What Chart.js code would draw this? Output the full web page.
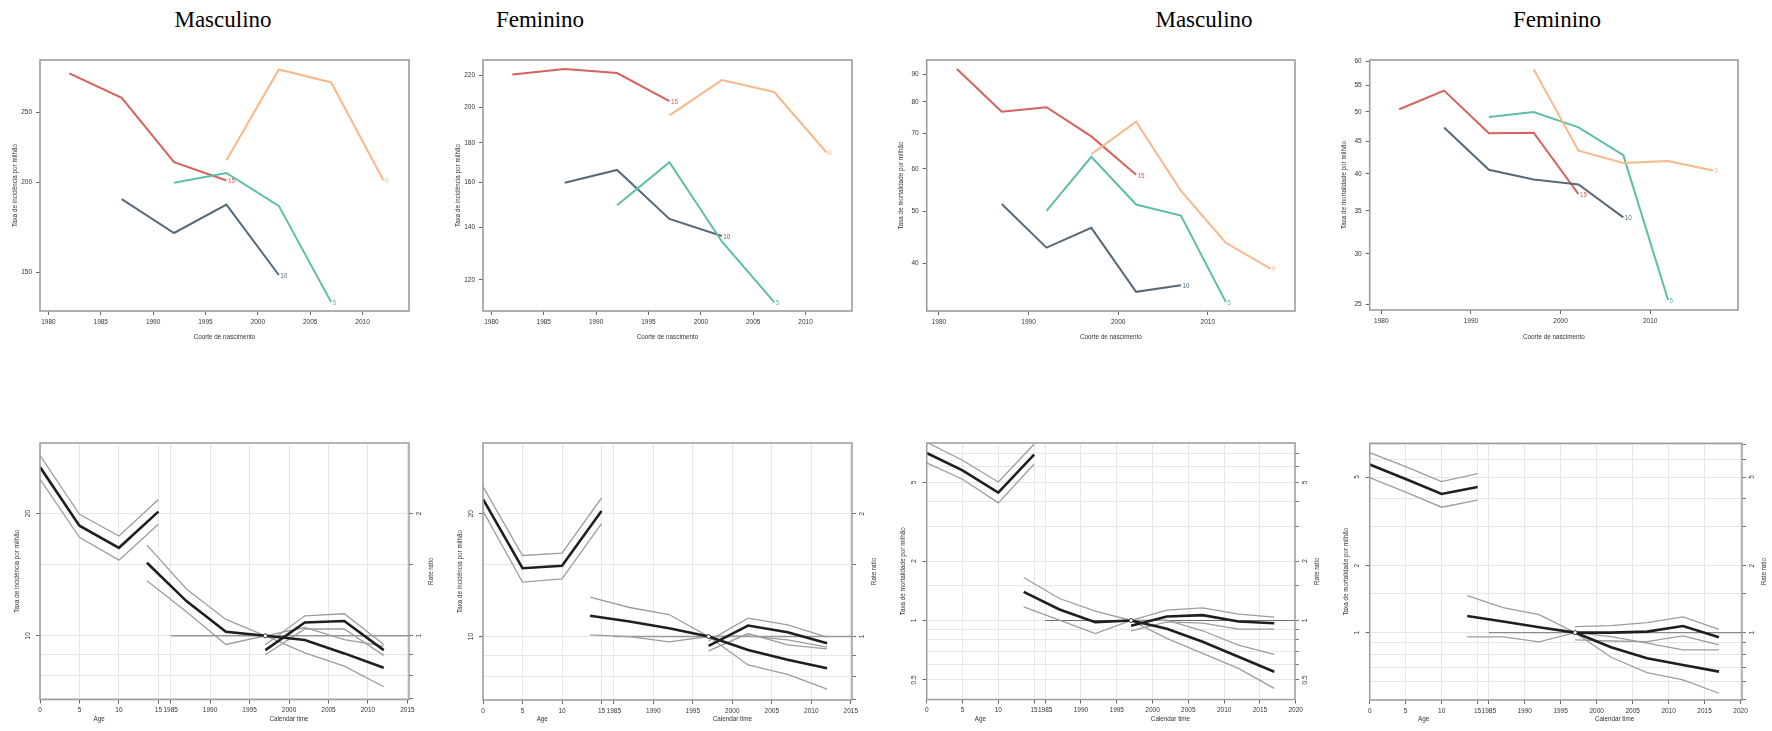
<!DOCTYPE html>
<html><head><meta charset="utf-8">
<script src="https://cdn.jsdelivr.net/npm/chart.js@4.4.1/dist/chart.umd.min.js"></script>
<style>
body{margin:0;background:#fff;width:1772px;height:731px;overflow:hidden;position:relative}
canvas{position:absolute}
.ttl{position:absolute;font-family:"Liberation Serif","Times New Roman",serif;font-size:23px;line-height:23px;color:#000;white-space:nowrap;transform:translateX(-50%)}
</style></head><body>
<div class="ttl" style="left:223px;top:8px">Masculino</div>
<div class="ttl" style="left:540px;top:8px">Feminino</div>
<div class="ttl" style="left:1204px;top:8px">Masculino</div>
<div class="ttl" style="left:1557px;top:8px">Feminino</div>
<canvas id="t0" width="443" height="310" style="left:0px;top:40px"></canvas>
<canvas id="t1" width="443" height="310" style="left:443px;top:40px"></canvas>
<canvas id="t2" width="443" height="310" style="left:886px;top:40px"></canvas>
<canvas id="t3" width="443" height="310" style="left:1329px;top:40px"></canvas>
<canvas id="b0" width="443" height="301" style="left:0px;top:430px"></canvas>
<canvas id="b1" width="443" height="301" style="left:443px;top:430px"></canvas>
<canvas id="b2" width="443" height="301" style="left:886px;top:430px"></canvas>
<canvas id="b3" width="443" height="301" style="left:1329px;top:430px"></canvas>
<script>
// ---------------- DATA: top row (rates by birth cohort, one line per age group) ----------------
const AGE_LABELS = ['0', '5', '10', '15'];
const COH_INC_A0  = [1997, 2002, 2007, 2012];
const COH_INC_A5  = [1992, 1997, 2002, 2007];
const COH_INC_A10 = [1987, 1992, 1997, 2002];
const COH_INC_A15 = [1982, 1987, 1992, 1997];
const COH_MORT_A0  = [1997, 2002, 2007, 2012, 2017];
const COH_MORT_A5  = [1992, 1997, 2002, 2007, 2012];
const COH_MORT_A10 = [1987, 1992, 1997, 2002, 2007];
const COH_MORT_A15 = [1982, 1987, 1992, 1997, 2002];

const INC_M_A0  = [214.5, 286.3, 274.7, 201.1];
const INC_M_A5  = [199.6, 206.0, 185.5, 136.6];
const INC_M_A10 = [189.5, 170.2, 186.3, 148.9];
const INC_M_A15 = [282.7, 261.6, 213.2, 201.1];

const INC_F_A0  = [195.2, 216.7, 209.2, 174.9];
const INC_F_A5  = [149.6, 170.0, 134.4, 112.3];
const INC_F_A10 = [159.9, 166.1, 143.7, 136.6];
const INC_F_A15 = [220.4, 223.9, 221.3, 203.6];

const MORT_M_A0  = [63.9, 73.5, 54.6, 43.7, 39.1];
const MORT_M_A5  = [50.1, 63.2, 51.5, 49.1, 33.9];
const MORT_M_A10 = [51.6, 42.8, 46.6, 35.4, 36.4];
const MORT_M_A15 = [92.2, 76.7, 78.2, 69.0, 58.5];

const MORT_F_A0  = [58.3, 43.5, 41.6, 41.9, 40.5];
const MORT_F_A5  = [49.1, 50.0, 47.3, 42.8, 25.4];
const MORT_F_A10 = [47.3, 40.6, 39.2, 38.5, 34.2];
const MORT_F_A15 = [50.5, 54.0, 46.3, 46.4, 37.2];

const TOP_X_TICKS_INC  = [1980, 1985, 1990, 1995, 2000, 2005, 2010];
const TOP_X_TICKS_MORT = [1980, 1990, 2000, 2010];
const TOP_Y_TICKS_INC_M  = [150, 200, 250];
const TOP_Y_TICKS_INC_F  = [120, 140, 160, 180, 200, 220];
const TOP_Y_TICKS_MORT_M = [40, 50, 60, 70, 80, 90];
const TOP_Y_TICKS_MORT_F = [25, 30, 35, 40, 45, 50, 55, 60];

// ---------------- DATA: bottom row (age-period-cohort effects) ----------------
const APC_AGES = [0, 5, 10, 15];
const APC_COH_INC  = [1982, 1987, 1992, 1997, 2002, 2007, 2012];
const APC_PER_INC  = [1997, 2002, 2007, 2012];
const APC_COH_MORT = [1982, 1987, 1992, 1997, 2002, 2007, 2012, 2017];
const APC_PER_MORT = [1997, 2002, 2007, 2012, 2017];
const APC_REF_YEAR = 1997;

const INC_M_AGE    = [26.0, 18.65, 16.46, 20.2];
const INC_M_AGE_HI = [27.8, 19.9, 17.6, 21.65];
const INC_M_AGE_LO = [24.3, 17.46, 15.35, 18.8];
const INC_M_COH    = [1.512, 1.217, 1.023, 1, 0.976, 0.905, 0.834];
const INC_M_COH_HI = [1.671, 1.303, 1.097, 1, 1.048, 0.979, 0.943];
const INC_M_COH_LO = [1.366, 1.146, 0.952, 1, 0.908, 0.842, 0.749];
const INC_M_PER    = [0.922, 1.078, 1.087, 0.922];
const INC_M_PER_HI = [0.950, 1.120, 1.133, 0.952];
const INC_M_PER_LO = [0.898, 1.039, 1.040, 0.895];

const INC_F_AGE    = [21.7, 14.7, 14.9, 20.3];
const INC_F_AGE_HI = [23.3, 15.8, 16.0, 21.85];
const INC_F_AGE_LO = [20.3, 13.6, 13.85, 18.9];
const INC_F_COH    = [1.124, 1.088, 1.048, 1, 0.927, 0.877, 0.836];
const INC_F_COH_HI = [1.249, 1.178, 1.132, 1, 1.004, 0.981, 0.942];
const INC_F_COH_LO = [1.009, 1.000, 0.970, 1, 0.852, 0.808, 0.743];
const INC_F_PER    = [0.949, 1.064, 1.025, 0.963];
const INC_F_PER_HI = [0.976, 1.109, 1.068, 0.996];
const INC_F_PER_LO = [0.922, 1.017, 0.954, 0.933];

const MORT_M_AGE    = [7.05, 5.76, 4.44, 6.92];
const MORT_M_AGE_HI = [7.99, 6.48, 5.03, 7.80];
const MORT_M_AGE_LO = [6.28, 5.19, 3.94, 6.18];
const MORT_M_COH    = [1.397, 1.137, 0.981, 1, 0.907, 0.780, 0.655, 0.550];
const MORT_M_COH_HI = [1.650, 1.292, 1.115, 1, 1.004, 0.887, 0.750, 0.673];
const MORT_M_COH_LO = [1.173, 1.004, 0.859, 1, 0.811, 0.681, 0.572, 0.453];
const MORT_M_PER    = [0.940, 1.048, 1.064, 0.988, 0.969];
const MORT_M_PER_HI = [1.000, 1.128, 1.159, 1.077, 1.040];
const MORT_M_PER_LO = [0.887, 0.985, 0.969, 0.904, 0.904];

const MORT_F_AGE    = [5.69, 4.90, 4.20, 4.51];
const MORT_F_AGE_HI = [6.44, 5.57, 4.77, 5.18];
const MORT_F_AGE_LO = [4.97, 4.28, 3.66, 3.94];
const MORT_F_COH    = [1.188, 1.121, 1.057, 1, 0.859, 0.767, 0.716, 0.668];
const MORT_F_COH_HI = [1.466, 1.295, 1.205, 1, 0.959, 0.896, 0.836, 0.836];
const MORT_F_COH_LO = [0.956, 0.956, 0.908, 1, 0.775, 0.661, 0.613, 0.534];
const MORT_F_PER    = [1.000, 1.000, 1.010, 1.071, 0.953];
const MORT_F_PER_HI = [1.064, 1.075, 1.109, 1.176, 1.035];
const MORT_F_PER_LO = [0.927, 0.917, 0.911, 0.966, 0.880];

const APC_CAL_TICKS_INC  = [1985, 1990, 1995, 2000, 2005, 2010, 2015];
const APC_CAL_TICKS_MORT = [1985, 1990, 1995, 2000, 2005, 2010, 2015, 2020];
const APC_RR_GRID = [0.5, 0.6, 0.7, 0.8, 0.9, 1, 1.5, 2, 3, 4, 5, 6, 7];
const APC_RATE_LABELS_INC = [10, 20];
const APC_RR_LABELS_INC   = [1, 2];
const APC_LABELS_MORT_M   = [0.5, 1, 2, 5];
const APC_LABELS_MORT_F   = [1, 2, 5];

// ---------------- STYLE / LAYOUT ----------------
const COL_A0 = '#F7B88A', COL_A5 = '#5DBDA8', COL_A10 = '#566A79', COL_A15 = '#D5625C';
const FONT = '"Liberation Sans", Arial, Helvetica, sans-serif';
const TICK_FONT = {family: FONT, size: 6.5};
const AGE_ORIGIN = 1968.45;   // where age 0 sits on the shared calendar axis
const W = 443;

function makeDecor(id, spec) {
  return {
    id: 'decor_' + id,
    afterDraw(chart) {
      const ctx = chart.ctx, ca = chart.chartArea;
      ctx.save();
      // end labels for lines
      chart.data.datasets.forEach((ds, i) => {
        if (!ds.endLabel) return;
        const meta = chart.getDatasetMeta(i);
        const p = meta.data[meta.data.length - 1];
        ctx.font = '6.3px ' + FONT;
        ctx.fillStyle = ds.borderColor;
        ctx.textAlign = 'left';
        ctx.textBaseline = 'middle';
        ctx.fillText(ds.endLabel, p.x + 1.5, p.y + 1);
      });
      ctx.strokeStyle = spec.boxColor;
      ctx.lineWidth = spec.boxWidth;
      ctx.strokeRect(ca.left, ca.top, ca.right - ca.left, ca.bottom - ca.top);
      spec.texts(chart).forEach(t => {
        ctx.save();
        ctx.font = (t.size || 6.3) + 'px ' + FONT;
        ctx.fillStyle = t.color || '#333';
        ctx.textAlign = 'center';
        ctx.textBaseline = 'middle';
        ctx.translate(t.x, t.y);
        if (t.rot) ctx.rotate(t.rot);
        ctx.fillText(t.text, 0, 0);
        ctx.restore();
      });
      ctx.restore();
    }
  };
}

function topChart(id, p) {
  const H = 310;
  const series = [
    {x: p.cohorts[0], y: p.values[0], color: COL_A0,  label: AGE_LABELS[0]},
    {x: p.cohorts[1], y: p.values[1], color: COL_A5,  label: AGE_LABELS[1]},
    {x: p.cohorts[2], y: p.values[2], color: COL_A10, label: AGE_LABELS[2]},
    {x: p.cohorts[3], y: p.values[3], color: COL_A15, label: AGE_LABELS[3]}
  ];
  const datasets = series.map(s => ({
    data: s.x.map((x, i) => ({x: x, y: s.y[i]})),
    borderColor: s.color, borderWidth: 2, pointRadius: 0, fill: false, tension: 0,
    endLabel: s.label
  }));
  new Chart(document.getElementById(id), {
    type: 'line',
    data: {datasets},
    options: {
      responsive: false, animation: false, devicePixelRatio: 1,
      layout: {padding: {top: p.box.top, right: W - p.box.right, left: 0, bottom: 0}},
      plugins: {legend: {display: false}, tooltip: {enabled: false}},
      scales: {
        x: {
          type: 'linear', min: p.xmin, max: p.xmax,
          afterBuildTicks: s => { s.ticks = p.xTicks.map(v => ({value: v})); },
          afterFit: s => { s.height = H - p.box.bottom; },
          ticks: {autoSkip: false, maxRotation: 0, minRotation: 0, padding: 3, color: '#333', font: TICK_FONT, callback: v => String(v)},
          grid: {display: true, drawOnChartArea: false, drawTicks: true, tickLength: 4, tickColor: '#666', tickWidth: 1},
          border: {display: false}
        },
        y: {
          type: 'logarithmic', min: p.ymin, max: p.ymax,
          afterBuildTicks: s => { s.ticks = p.yTicks.map(v => ({value: v})); },
          afterFit: s => { s.width = p.box.left; },
          ticks: {autoSkip: false, padding: 4, color: '#333', font: TICK_FONT, callback: v => String(v)},
          grid: {display: true, drawOnChartArea: false, drawTicks: true, tickLength: 4, tickColor: '#666', tickWidth: 1},
          border: {display: false}
        }
      }
    },
    plugins: [makeDecor(id, {
      boxColor: '#9c9c9c', boxWidth: 1.6,
      texts: chart => {
        const ca = chart.chartArea;
        return [
          {text: p.ytitle, x: 15, y: (ca.top + ca.bottom) / 2, rot: -Math.PI / 2},
          {text: 'Coorte de nascimento', x: (ca.left + ca.right) / 2, y: 297}
        ];
      }
    })]
  });
}

function apcChart(id, p) {
  const H = 301;
  const thin = {borderColor: '#9d9d9d', borderWidth: 1.3, order: 2};
  const thick = {borderColor: '#1f1f1f', borderWidth: 2.6, order: 1};
  const pts = (xs, ys, off) => xs.map((x, i) => ({x: x + off, y: ys[i]}));
  const base = {pointRadius: 0, fill: false, tension: 0};
  const datasets = [
    Object.assign({data: pts(APC_AGES, p.ageHi, AGE_ORIGIN), yAxisID: 'y'}, base, thin),
    Object.assign({data: pts(APC_AGES, p.ageLo, AGE_ORIGIN), yAxisID: 'y'}, base, thin),
    Object.assign({data: pts(APC_AGES, p.age, AGE_ORIGIN), yAxisID: 'y'}, base, thick),
    Object.assign({data: pts(p.coh, p.cohHi, 0), yAxisID: 'yr'}, base, thin),
    Object.assign({data: pts(p.coh, p.cohLo, 0), yAxisID: 'yr'}, base, thin),
    Object.assign({data: pts(p.coh, p.cohMid, 0), yAxisID: 'yr'}, base, thick),
    Object.assign({data: pts(p.per, p.perHi, 0), yAxisID: 'yr'}, base, thin),
    Object.assign({data: pts(p.per, p.perLo, 0), yAxisID: 'yr'}, base, thin),
    Object.assign({data: pts(p.per, p.perMid, 0), yAxisID: 'yr'}, base, thick),
    Object.assign({data: [{x: p.calTicks[0], y: 1}, {x: p.xmax, y: 1}], yAxisID: 'yr'}, base,
      {borderColor: p.refColor, borderWidth: p.refWidth, order: 3}),
    {data: [{x: APC_REF_YEAR, y: 1}], yAxisID: 'yr', showLine: false, pointRadius: 2,
      pointBackgroundColor: '#fff', pointBorderColor: '#222', pointBorderWidth: 0.9, order: 0}
  ];
  const xTickVals = APC_AGES.map(a => AGE_ORIGIN + a).concat(p.calTicks);
  new Chart(document.getElementById(id), {
    type: 'line',
    data: {datasets},
    options: {
      responsive: false, animation: false, devicePixelRatio: 1,
      layout: {padding: {top: p.box.top, right: 0, left: 0, bottom: 0}},
      plugins: {legend: {display: false}, tooltip: {enabled: false}},
      scales: {
        x: {
          type: 'linear', min: AGE_ORIGIN, max: p.xmax,
          afterBuildTicks: s => { s.ticks = xTickVals.map(v => ({value: v})); },
          afterFit: s => { s.height = H - p.box.bottom; },
          ticks: {autoSkip: false, maxRotation: 0, minRotation: 0, padding: 3, color: '#333', font: TICK_FONT,
            callback: v => v < 1984 ? String(Math.round(v - AGE_ORIGIN)) : String(v)},
          grid: {display: true, drawOnChartArea: true, color: '#e6e6e6', lineWidth: 1, drawTicks: true, tickLength: 4, tickColor: '#666', tickWidth: 1},
          border: {display: false}
        },
        y: {
          type: 'logarithmic', position: 'left', min: p.ymin, max: p.ymax,
          afterBuildTicks: s => { s.ticks = p.leftLabels.map(v => ({value: v})); },
          afterFit: s => { s.width = p.box.left; },
          ticks: {display: false},
          grid: {display: true, drawOnChartArea: false, drawTicks: true, tickLength: 4, tickColor: '#666', tickWidth: 1},
          border: {display: false}
        },
        yr: {
          type: 'logarithmic', position: 'right', min: p.rrmin, max: p.rrmax,
          afterBuildTicks: s => { s.ticks = APC_RR_GRID.filter(v => v >= p.rrmin && v <= p.rrmax).map(v => ({value: v})); },
          afterFit: s => { s.width = W - p.box.right; },
          ticks: {display: false},
          grid: {display: true, drawOnChartArea: true, color: '#e6e6e6', lineWidth: 1, drawTicks: true, tickLength: 4, tickColor: '#777', tickWidth: 1},
          border: {display: false}
        }
      }
    },
    plugins: [makeDecor(id, {
      boxColor: '#9c9c9c', boxWidth: 1.5,
      texts: chart => {
        const ca = chart.chartArea, sx = chart.scales.x, sy = chart.scales.y, syr = chart.scales.yr;
        const out = [
          {text: p.ytitle, x: 17, y: (ca.top + ca.bottom) / 2, rot: -Math.PI / 2},
          {text: 'Rate ratio', x: ca.right + 22, y: (ca.top + ca.bottom) / 2, rot: -Math.PI / 2},
          {text: 'Age', x: sx.getPixelForValue(AGE_ORIGIN + 7.5), y: 289},
          {text: 'Calendar time', x: sx.getPixelForValue((p.calTicks[0] + p.calTicks[p.calTicks.length - 1]) / 2), y: 289}
        ];
        p.leftLabels.forEach(v => out.push({text: String(v), x: 28, y: sy.getPixelForValue(v), rot: -Math.PI / 2, size: 6.5}));
        p.rightLabels.forEach(v => out.push({text: String(v), x: ca.right + 10, y: syr.getPixelForValue(v), rot: -Math.PI / 2, size: 6.5}));
        return out;
      }
    })]
  });
}

// ---------------- BUILD ----------------
const TOP_BOX = {left: 40, right: 409, top: 20, bottom: 271};
topChart('t0', {xmin: 1979.2, xmax: 2014.43, ymin: 132.8, ymax: 295, box: TOP_BOX,
  xTicks: TOP_X_TICKS_INC, yTicks: TOP_Y_TICKS_INC_M, ytitle: 'Taxa de incidência por milhão',
  cohorts: [COH_INC_A0, COH_INC_A5, COH_INC_A10, COH_INC_A15],
  values: [INC_M_A0, INC_M_A5, INC_M_A10, INC_M_A15]});
topChart('t1', {xmin: 1979.2, xmax: 2014.43, ymin: 109.4, ymax: 230, box: TOP_BOX,
  xTicks: TOP_X_TICKS_INC, yTicks: TOP_Y_TICKS_INC_F, ytitle: 'Taxa de incidência por milhão',
  cohorts: [COH_INC_A0, COH_INC_A5, COH_INC_A10, COH_INC_A15],
  values: [INC_F_A0, INC_F_A5, INC_F_A10, INC_F_A15]});
topChart('t2', {xmin: 1978.63, xmax: 2019.73, ymin: 32.6, ymax: 95.8, box: {left: 40.7, right: 409, top: 20, bottom: 271},
  xTicks: TOP_X_TICKS_MORT, yTicks: TOP_Y_TICKS_MORT_M, ytitle: 'Taxa de mortalidade por milhão',
  cohorts: [COH_MORT_A0, COH_MORT_A5, COH_MORT_A10, COH_MORT_A15],
  values: [MORT_M_A0, MORT_M_A5, MORT_M_A10, MORT_M_A15]});
topChart('t3', {xmin: 1978.7, xmax: 2019.8, ymin: 24.5, ymax: 60.3, box: {left: 40.7, right: 409, top: 20, bottom: 270},
  xTicks: TOP_X_TICKS_MORT, yTicks: TOP_Y_TICKS_MORT_F, ytitle: 'Taxa de mortalidade por milhão',
  cohorts: [COH_MORT_A0, COH_MORT_A5, COH_MORT_A10, COH_MORT_A15],
  values: [MORT_F_A0, MORT_F_A5, MORT_F_A10, MORT_F_A15]});

apcChart('b0', {xmax: 2015.2, ymin: 6.97, ymax: 29.8, rrmin: 0.697, rrmax: 2.98,
  box: {left: 40, right: 409, top: 13, bottom: 269.5}, calTicks: APC_CAL_TICKS_INC,
  leftLabels: APC_RATE_LABELS_INC, rightLabels: APC_RR_LABELS_INC, ytitle: 'Taxa de incidência por milhão',
  refColor: '#979797', refWidth: 1.5,
  age: INC_M_AGE, ageHi: INC_M_AGE_HI, ageLo: INC_M_AGE_LO,
  coh: APC_COH_INC, cohMid: INC_M_COH, cohHi: INC_M_COH_HI, cohLo: INC_M_COH_LO,
  per: APC_PER_INC, perMid: INC_M_PER, perHi: INC_M_PER_HI, perLo: INC_M_PER_LO});
apcChart('b1', {xmax: 2015.15, ymin: 6.99, ymax: 29.8, rrmin: 0.699, rrmax: 2.98,
  box: {left: 40, right: 409, top: 13, bottom: 270}, calTicks: APC_CAL_TICKS_INC,
  leftLabels: APC_RATE_LABELS_INC, rightLabels: APC_RR_LABELS_INC, ytitle: 'Taxa de incidência por milhão',
  refColor: '#979797', refWidth: 1.5,
  age: INC_F_AGE, ageHi: INC_F_AGE_HI, ageLo: INC_F_AGE_LO,
  coh: APC_COH_INC, cohMid: INC_F_COH, cohHi: INC_F_COH_HI, cohLo: INC_F_COH_LO,
  per: APC_PER_INC, perMid: INC_F_PER, perHi: INC_F_PER_HI, perLo: INC_F_PER_LO});
apcChart('b2', {xmax: 2019.9, ymin: 0.398, ymax: 7.92, rrmin: 0.398, rrmax: 7.92,
  box: {left: 40.7, right: 409, top: 13, bottom: 269.5}, calTicks: APC_CAL_TICKS_MORT,
  leftLabels: APC_LABELS_MORT_M, rightLabels: APC_LABELS_MORT_M, ytitle: 'Taxa de mortalidade por milhão',
  refColor: '#6f6f6f', refWidth: 1.1,
  age: MORT_M_AGE, ageHi: MORT_M_AGE_HI, ageLo: MORT_M_AGE_LO,
  coh: APC_COH_MORT, cohMid: MORT_M_COH, cohHi: MORT_M_COH_HI, cohLo: MORT_M_COH_LO,
  per: APC_PER_MORT, perMid: MORT_M_PER, perHi: MORT_M_PER_HI, perLo: MORT_M_PER_LO});
apcChart('b3', {xmax: 2020.2, ymin: 0.498, ymax: 7.09, rrmin: 0.498, rrmax: 7.09,
  box: {left: 40.7, right: 413, top: 13.3, bottom: 270}, calTicks: APC_CAL_TICKS_MORT,
  leftLabels: APC_LABELS_MORT_F, rightLabels: APC_LABELS_MORT_F, ytitle: 'Taxa de mortalidade por milhão',
  refColor: '#8a8a8a', refWidth: 1.3,
  age: MORT_F_AGE, ageHi: MORT_F_AGE_HI, ageLo: MORT_F_AGE_LO,
  coh: APC_COH_MORT, cohMid: MORT_F_COH, cohHi: MORT_F_COH_HI, cohLo: MORT_F_COH_LO,
  per: APC_PER_MORT, perMid: MORT_F_PER, perHi: MORT_F_PER_HI, perLo: MORT_F_PER_LO});
</script>
</body></html>
